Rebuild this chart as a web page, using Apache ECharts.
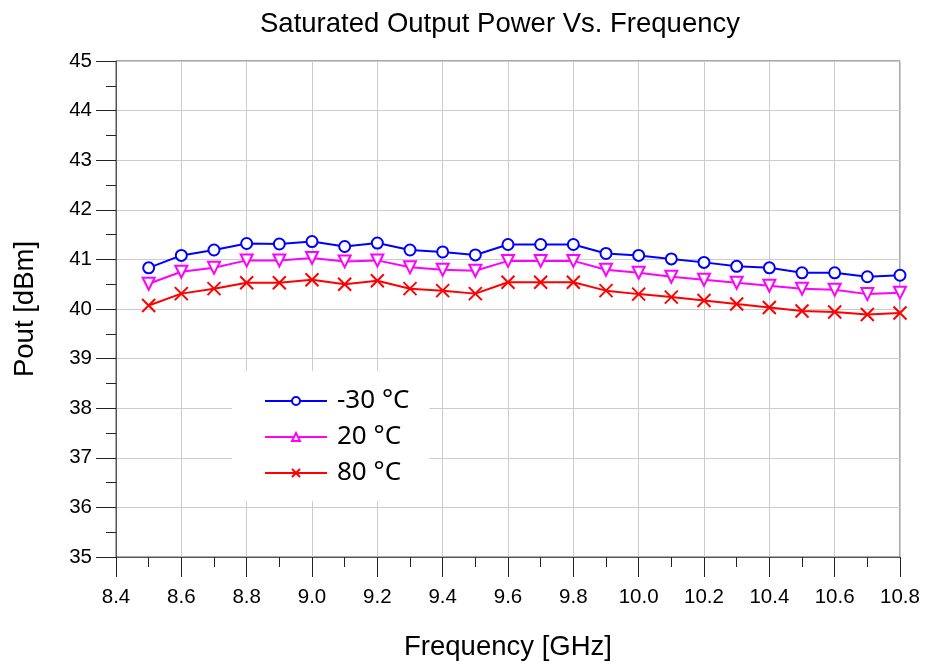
<!DOCTYPE html>
<html>
<head>
<meta charset="utf-8">
<script src="https://cdn.jsdelivr.net/npm/echarts@6/dist/echarts.min.js"></script>
<style>html,body{margin:0;padding:0;background:#fff}#c{width:927px;height:666px}</style>
</head>
<body>
<div id="c"></div>
<script>
const freq = [8.5,8.6,8.7,8.8,8.9,9.0,9.1,9.2,9.3,9.4,9.5,9.6,9.7,9.8,9.9,10.0,10.1,10.2,10.3,10.4,10.5,10.6,10.7,10.8];
const tMinus30 = [40.83,41.08,41.19,41.32,41.31,41.36,41.26,41.33,41.19,41.15,41.09,41.30,41.30,41.30,41.12,41.08,41.01,40.94,40.86,40.83,40.73,40.73,40.65,40.68];
const t20 = [40.51,40.75,40.83,40.98,40.98,41.03,40.96,40.98,40.84,40.79,40.77,40.97,40.97,40.97,40.79,40.73,40.65,40.59,40.53,40.47,40.41,40.39,40.30,40.33];
const t80 = [40.07,40.31,40.41,40.53,40.53,40.59,40.50,40.57,40.41,40.37,40.31,40.54,40.54,40.54,40.37,40.30,40.24,40.17,40.10,40.03,39.96,39.94,39.89,39.92];
const seriesNames = ['-30 °C','20 °C','80 °C'];
const xTicks = {min: 8.4, max: 10.8, step: 0.2};
const yTicks = {min: 35, max: 45, step: 1};

const pair = arr => freq.map((f,i)=>[f,arr[i]]);
const chart = echarts.init(document.getElementById('c'));
const SANS = 'Liberation Sans, Arial, sans-serif';
const axisFont = {fontFamily:SANS, fontSize:20.5, color:'#000'};
chart.setOption({
  animation:false,
  backgroundColor:'#fff',
  title:{text:'Saturated Output Power Vs. Frequency', left:495, top:5, textAlign:'center',
    textStyle:{fontFamily:SANS, fontSize:27.5, fontWeight:'normal', color:'#000'}},
  grid:{left:116,right:27,top:61,bottom:108, show:true, borderColor:'#555', borderWidth:1},
  legend:{orient:'vertical', left:232, top:371, backgroundColor:'#fff', padding:[17,20,15,32],
    itemWidth:62, itemHeight:10, itemGap:10, symbolRotate:0,
    textStyle:{fontFamily:'Noto Sans, sans-serif', fontSize:26, color:'#000', padding:[0,0,0,5]},
    data:seriesNames},
  xAxis:{type:'value', min:xTicks.min, max:xTicks.max, interval:xTicks.step,
    name:'Frequency [GHz]', nameLocation:'middle', nameGap:76,
    nameTextStyle:{fontFamily:SANS, fontSize:27.5, color:'#000'},
    axisLine:{lineStyle:{color:'#555',width:1}},
    axisTick:{length:20, lineStyle:{color:'#222'}},
    minorTick:{show:true, splitNumber:2, length:10, lineStyle:{color:'#222'}},
    axisLabel:Object.assign({margin:30, formatter:v=>v.toFixed(1)}, axisFont),
    splitLine:{show:true, lineStyle:{color:'#ccc',width:1}}},
  yAxis:{type:'value', min:yTicks.min, max:yTicks.max, interval:yTicks.step,
    name:'Pout [dBm]', nameLocation:'middle', nameGap:77,
    nameTextStyle:{fontFamily:SANS, fontSize:27.5, color:'#000'},
    axisLine:{lineStyle:{color:'#555',width:1}},
    axisTick:{length:20, lineStyle:{color:'#222'}},
    minorTick:{show:true, splitNumber:2, length:10, lineStyle:{color:'#222'}},
    axisLabel:Object.assign({margin:24, formatter:v=>String(Math.round(v))}, axisFont),
    splitLine:{show:true, lineStyle:{color:'#ccc',width:1}}},
  series:[
    {name:seriesNames[0], type:'line', data:pair(tMinus30), symbol:'emptyCircle', symbolSize:11,
      lineStyle:{color:'#0000ff',width:2}, itemStyle:{color:'#0000ff',borderWidth:2}},
    {name:seriesNames[1], type:'line', data:pair(t20), symbol:'triangle', symbolRotate:180, symbolSize:12,
      lineStyle:{color:'#ff00ff',width:2}, itemStyle:{color:'#fff',borderColor:'#ff00ff',borderWidth:2}},
    {name:seriesNames[2], type:'line', data:pair(t80), symbol:'path://M0,0 L10,10 M10,0 L0,10', symbolSize:13,
      lineStyle:{color:'#ff0000',width:2}, itemStyle:{color:'#ff0000',borderColor:'#ff0000',borderWidth:2}}
  ]
});
</script>
</body>
</html>
